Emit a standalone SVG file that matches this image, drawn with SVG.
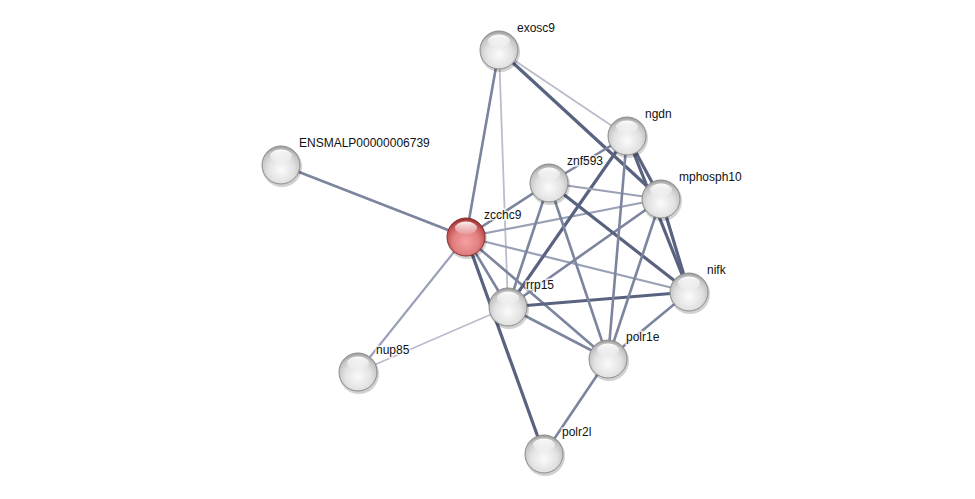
<svg xmlns="http://www.w3.org/2000/svg" width="975" height="499" viewBox="0 0 975 499">
<style>
.e{fill:none;stroke-linecap:butt}
.t{stroke:#596380;stroke-width:3.2}
.m{stroke:#7c849e;stroke-width:2.6}
.n{stroke:#9aa1b6;stroke-width:2.2}
.l{stroke:#b9bdcc;stroke-width:1.8}
.lab{font-family:"Liberation Sans",Arial,sans-serif;font-size:12px;fill:#111;stroke:#fff;stroke-width:3;stroke-opacity:0.8;paint-order:stroke}
.g{fill:url(#gg);stroke:#8c8c8c;stroke-width:1}
.r{fill:url(#gr);stroke:#8a2a2a;stroke-width:1}
.sh{fill:#000;opacity:0.18}
.hl{fill:url(#gh)}
</style>
<defs>
<radialGradient id="gg" cx="0.5" cy="0.62" r="0.58">
<stop offset="0" stop-color="#fbfbfb"/>
<stop offset="0.6" stop-color="#e2e2e2"/>
<stop offset="0.9" stop-color="#c4c4c4"/>
<stop offset="1" stop-color="#a6a6a6"/>
</radialGradient>
<radialGradient id="gr" cx="0.5" cy="0.62" r="0.58">
<stop offset="0" stop-color="#f6a0a0"/>
<stop offset="0.6" stop-color="#e07e7e"/>
<stop offset="0.9" stop-color="#c05050"/>
<stop offset="1" stop-color="#a03434"/>
</radialGradient>
<linearGradient id="gh" x1="0" y1="0" x2="0" y2="1">
<stop offset="0" stop-color="#fff" stop-opacity="0.95"/>
<stop offset="1" stop-color="#fff" stop-opacity="0.1"/>
</linearGradient>
</defs>
<rect width="975" height="499" fill="#fff"/>
<g id="edges">
<line class="e m" x1="499" y1="50" x2="466" y2="237"/>
<line class="e l" x1="499" y1="50" x2="508" y2="307"/>
<line class="e l" x1="499" y1="50" x2="627" y2="136"/>
<line class="e t" x1="499" y1="50" x2="661" y2="199"/>
<line class="e m" x1="281" y1="165" x2="466" y2="237"/>
<line class="e m" x1="466" y1="237" x2="549" y2="183"/>
<line class="e n" x1="466" y1="237" x2="661" y2="199"/>
<line class="e n" x1="466" y1="237" x2="689" y2="292"/>
<line class="e m" x1="466" y1="237" x2="508" y2="307"/>
<line class="e m" x1="466" y1="237" x2="608" y2="359"/>
<line class="e t" x1="466" y1="237" x2="544" y2="454"/>
<line class="e n" x1="466" y1="237" x2="358" y2="372"/>
<line class="e l" x1="358" y1="372" x2="508" y2="307"/>
<line class="e m" x1="608" y1="359" x2="544" y2="454"/>
<line class="e t" x1="508" y1="307" x2="689" y2="292"/>
<line class="e m" x1="508" y1="307" x2="608" y2="359"/>
<line class="e m" x1="508" y1="307" x2="549" y2="183"/>
<line class="e t" x1="508" y1="307" x2="627" y2="136"/>
<line class="e m" x1="508" y1="307" x2="661" y2="199"/>
<line class="e m" x1="549" y1="183" x2="627" y2="136"/>
<line class="e n" x1="549" y1="183" x2="661" y2="199"/>
<line class="e t" x1="549" y1="183" x2="689" y2="292"/>
<line class="e m" x1="549" y1="183" x2="608" y2="359"/>
<line class="e t" x1="627" y1="136" x2="661" y2="199"/>
<line class="e t" x1="627" y1="136" x2="689" y2="292"/>
<line class="e m" x1="627" y1="136" x2="608" y2="359"/>
<line class="e t" x1="661" y1="199" x2="689" y2="292"/>
<line class="e m" x1="661" y1="199" x2="608" y2="359"/>
<line class="e m" x1="689" y1="292" x2="608" y2="359"/>
</g>
<g id="exosc9"><ellipse class="sh" cx="500" cy="52" rx="20" ry="20"/><circle class="g" cx="499" cy="50" r="19"/><ellipse class="hl" cx="499" cy="41" rx="11" ry="6.5"/><text class="lab" x="517" y="32">exosc9</text></g>
<g id="ngdn"><ellipse class="sh" cx="628" cy="138" rx="20" ry="20"/><circle class="g" cx="627" cy="136" r="19"/><ellipse class="hl" cx="627" cy="127" rx="11" ry="6.5"/><text class="lab" x="645" y="118">ngdn</text></g>
<g id="ENSMALP00000006739"><ellipse class="sh" cx="282" cy="167" rx="20" ry="20"/><circle class="g" cx="281" cy="165" r="19"/><ellipse class="hl" cx="281" cy="156" rx="11" ry="6.5"/><text class="lab" x="299" y="147">ENSMALP00000006739</text></g>
<g id="znf593"><ellipse class="sh" cx="550" cy="185" rx="20" ry="20"/><circle class="g" cx="549" cy="183" r="19"/><ellipse class="hl" cx="549" cy="174" rx="11" ry="6.5"/><text class="lab" x="567" y="165">znf593</text></g>
<g id="mphosph10"><ellipse class="sh" cx="662" cy="201" rx="20" ry="20"/><circle class="g" cx="661" cy="199" r="19"/><ellipse class="hl" cx="661" cy="190" rx="11" ry="6.5"/><text class="lab" x="679" y="181">mphosph10</text></g>
<g id="zcchc9"><ellipse class="sh" cx="467" cy="239" rx="20" ry="20"/><circle class="r" cx="466" cy="237" r="19"/><ellipse class="hl" cx="466" cy="228" rx="11" ry="6.5"/><text class="lab" x="484" y="219">zcchc9</text></g>
<g id="nifk"><ellipse class="sh" cx="690" cy="294" rx="20" ry="20"/><circle class="g" cx="689" cy="292" r="19"/><ellipse class="hl" cx="689" cy="283" rx="11" ry="6.5"/><text class="lab" x="707" y="274">nifk</text></g>
<g id="rrp15"><ellipse class="sh" cx="509" cy="309" rx="20" ry="20"/><circle class="g" cx="508" cy="307" r="19"/><ellipse class="hl" cx="508" cy="298" rx="11" ry="6.5"/><text class="lab" x="526" y="289">rrp15</text></g>
<g id="polr1e"><ellipse class="sh" cx="609" cy="361" rx="20" ry="20"/><circle class="g" cx="608" cy="359" r="19"/><ellipse class="hl" cx="608" cy="350" rx="11" ry="6.5"/><text class="lab" x="626" y="341">polr1e</text></g>
<g id="nup85"><ellipse class="sh" cx="359" cy="374" rx="20" ry="20"/><circle class="g" cx="358" cy="372" r="19"/><ellipse class="hl" cx="358" cy="363" rx="11" ry="6.5"/><text class="lab" x="376" y="354">nup85</text></g>
<g id="polr2l"><ellipse class="sh" cx="545" cy="456" rx="20" ry="20"/><circle class="g" cx="544" cy="454" r="19"/><ellipse class="hl" cx="544" cy="445" rx="11" ry="6.5"/><text class="lab" x="562" y="436">polr2l</text></g>
</svg>
